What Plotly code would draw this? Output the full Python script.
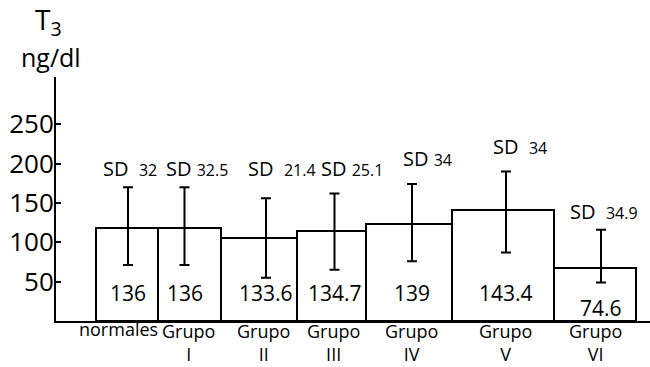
import plotly.graph_objects as go

# ---- data ----
categories = ["normales", "Grupo<br>I", "Grupo<br>II", "Grupo<br>III",
              "Grupo<br>IV", "Grupo<br>V", "Grupo<br>VI"]
bar_heights = [118, 118, 105, 114, 123, 141, 67]      # drawn bar heights (ng/dl)
mean_labels = [136, 136, 133.6, 134.7, 139, 143.4, 74.6]  # printed values
sd_values = ["32", "32.5", "21.4", "25.1", "34", "34", "34.9"]
err_high = [170, 170, 156, 162, 174, 190, 116]
err_low = [71, 71, 55, 65, 76, 87, 49]
y_ticks = [50, 100, 150, 200, 250]

# ---- styling / layout helpers ----
bar_widths = [62, 63, 76, 69, 86, 102, 82]
bar_start = 96
err_offset = [1, -5, 7, 3, 3, 3, 6]
cat_offset = [-9, -1.5, 4, 1.5, 2, 2, 0]
sd_offset = [3, 7.5, 23, 20.5, 18, 17, 9]
sd_gap = ["&nbsp;&nbsp;", "&nbsp;", "&nbsp;&nbsp;", "&nbsp;", "&nbsp;", "&nbsp;&nbsp;", "&nbsp;&nbsp;"]
sd_label_y = [194, 194, 194, 194, 207, 222, 139]
FONT = "Open Sans"
L, R, T, B = 56, 0, 77, 46
W, H = 650, 367

def px_to_paper_x(px):
    return (px - L) / (W - L - R)

def py_to_paper_y(py):
    return (H - B - py) / (H - B - T)

centers = []
pos = bar_start
for w in bar_widths:
    centers.append(pos + w / 2)
    pos += w
err_x = [c + o for c, o in zip(centers, err_offset)]
cat_x = [c + o for c, o in zip(centers, cat_offset)]
sd_x = [c + o for c, o in zip(centers, sd_offset)]
err_mid = [(h + l) / 2 for h, l in zip(err_high, err_low)]
err_half = [(h - l) / 2 for h, l in zip(err_high, err_low)]

fig = go.Figure()
fig.add_trace(go.Bar(
    x=centers, y=bar_heights, width=bar_widths,
    marker=dict(color="white", line=dict(color="black", width=2)),
    showlegend=False, hoverinfo="skip",
))
fig.add_trace(go.Scatter(
    x=err_x, y=err_mid, mode="markers",
    marker=dict(size=1, opacity=0),
    error_y=dict(type="data", array=err_half, symmetric=True,
                 color="black", thickness=2, width=5),
    showlegend=False, hoverinfo="skip",
))

annotations = []
for i in range(len(categories)):
    ly = min(36, bar_heights[i] - 50)
    annotations.append(dict(
        x=err_x[i], y=ly, xref="x", yref="y", text=str(mean_labels[i]),
        showarrow=False, borderpad=0,
        font=dict(family=FONT, size=21, color="black"),
    ))
    annotations.append(dict(
        x=sd_x[i], y=sd_label_y[i], xref="x", yref="y",
        text="SD" + sd_gap[i] + "<span style='font-size:16px'>" + sd_values[i] + "</span>",
        showarrow=False, font=dict(family=FONT, size=20, color="black"),
    ))
    if "<br>" in categories[i]:
        annotations.append(dict(
            x=cat_x[i], y=py_to_paper_y(367), xref="x", yref="paper",
            text=categories[i], showarrow=False, yanchor="bottom",
            borderpad=0,
            font=dict(family=FONT, size=18, color="black"),
        ))
    else:
        annotations.append(dict(
            x=cat_x[i], y=py_to_paper_y(316), xref="x", yref="paper",
            text=categories[i], showarrow=False, yanchor="top",
            borderpad=0,
            font=dict(family=FONT, size=18, color="black"),
        ))

annotations.append(dict(
    x=px_to_paper_x(48), y=py_to_paper_y(21), xref="paper", yref="paper",
    text="T<sub>3</sub>", xanchor="center", yanchor="middle", showarrow=False,
    borderpad=0,
    font=dict(family=FONT, size=28, color="black"),
))
annotations.append(dict(
    x=px_to_paper_x(51), y=py_to_paper_y(57), xref="paper", yref="paper",
    text="ng/dl", xanchor="center", yanchor="middle", showarrow=False,
    borderpad=0,
    font=dict(family=FONT, size=25, color="black"),
))

fig.update_layout(
    width=W, height=H,
    margin=dict(l=L, r=R, t=T, b=B),
    paper_bgcolor="white", plot_bgcolor="white",
    bargap=0,
    annotations=annotations,
    xaxis=dict(
        range=[L, W - R], showgrid=False, zeroline=False,
        showline=True, linecolor="black", linewidth=2,
        showticklabels=False, ticks="", automargin=False,
    ),
    yaxis=dict(
        range=[0, 310], showgrid=False, zeroline=False,
        showline=True, linecolor="black", linewidth=2,
        tickvals=y_ticks, ticktext=[str(v) for v in y_ticks],
        ticks="inside", ticklen=5, tickwidth=2, tickcolor="black",
        ticklabelstandoff=-5,
        automargin=False,
        tickfont=dict(family=FONT, size=26, color="black"),
    ),
)

fig.write_html("out.html")
